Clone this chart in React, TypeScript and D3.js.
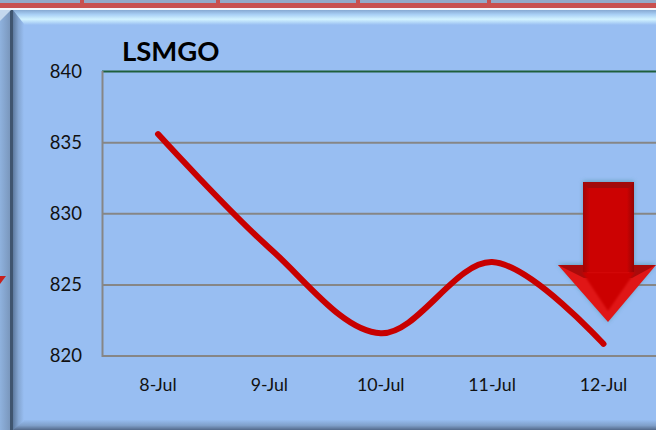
import React from "react";
import * as d3 from "d3";

const categories = ["8-Jul", "9-Jul", "10-Jul", "11-Jul", "12-Jul"];
const lsmgo = [835.6, 827.6, 821.6, 826.6, 820.85];
const yTicks = [820, 825, 830, 835, 840];
const headerDividers = [82, 218, 358, 489];

const FONT = "Lato, Carlito, sans-serif";

export default function App() {
  const W = 656, H = 430;
  const x = d3.scalePoint<string>().domain(categories).range([158, 603.5]);
  const y = d3.scaleLinear().domain([820, 840]).range([356, 71.5]);
  const line = d3
    .line<number>()
    .x((_, i) => x(categories[i]) as number)
    .y((d) => y(d))
    .curve(d3.curveCatmullRom.alpha(0.5));
  return (
    <svg
      width={W}
      height={H}
      viewBox={`0 0 ${W} ${H}`}
      style={{ position: "fixed", left: 0, top: 0, display: "block" }}
    >
      <defs>
        <linearGradient id="topBevel" x1="0" y1="0" x2="0" y2="1">
          <stop offset="0" stopColor="#86a9d2" />
          <stop offset="0.3" stopColor="#a9d0f5" />
          <stop offset="0.62" stopColor="#d2f3ff" />
          <stop offset="1" stopColor="#98bef2" />
        </linearGradient>
        <linearGradient id="bottomBevel" x1="0" y1="0" x2="0" y2="1">
          <stop offset="0" stopColor="#96bcef" />
          <stop offset="0.55" stopColor="#7f9fc9" />
          <stop offset="1" stopColor="#53698a" />
        </linearGradient>
        <linearGradient id="leftOuter" x1="0" y1="0" x2="1" y2="0">
          <stop offset="0" stopColor="#8fb2de" />
          <stop offset="1" stopColor="#7a97bd" />
        </linearGradient>
        <linearGradient id="leftInner" x1="0" y1="0" x2="1" y2="0">
          <stop offset="0" stopColor="#5d7a9f" />
          <stop offset="0.5" stopColor="#84a6d2" />
          <stop offset="1" stopColor="#98bef2" />
        </linearGradient>
        <linearGradient id="shaft" x1="0" y1="0" x2="1" y2="0">
          <stop offset="0" stopColor="#a00505" />
          <stop offset="0.14" stopColor="#cc0202" />
          <stop offset="0.86" stopColor="#cc0202" />
          <stop offset="1" stopColor="#950505" />
        </linearGradient>
        <filter id="glow" x="-20%" y="-20%" width="140%" height="140%">
          <feGaussianBlur stdDeviation="2" />
        </filter>
        <filter id="soft" x="-10%" y="-10%" width="120%" height="120%">
          <feGaussianBlur stdDeviation="1" />
        </filter>
      </defs>

      <rect x={0} y={0} width={W} height={H} fill="#98bef2" />

      {/* header strip */}
      <rect x={0} y={0} width={W} height={3} fill="#93a9c8" />
      <rect x={0} y={3} width={W} height={5} fill="#c8504f" />
      {headerDividers.map((d) => (
        <rect key={d} x={d - 2} y={0} width={4} height={8} fill="#c8504f" />
      ))}
      <rect x={0} y={8} width={W} height={2} fill="#f4f6fa" />

      {/* bevels */}
      <rect x={0} y={10} width={W} height={15} fill="url(#topBevel)" />
      <rect x={0} y={420} width={W} height={10} fill="url(#bottomBevel)" />
      <rect x={0} y={10} width={10} height={H - 10} fill="url(#leftOuter)" />
      <rect x={10} y={10} width={3} height={H - 10} fill="#3f556f" />
      <path d={`M13,10 L24,24 V421 L13,${H} Z`} fill="url(#leftInner)" />
      <path d="M0,10 H11 L0,21 Z" fill="#c4d8ee" />
      <path d="M0,276 L6,276 L0,284 Z" fill="#c8201c" />

      {/* grid */}
      {yTicks.map((t) => (
        <line
          key={t}
          x1={102}
          x2={W}
          y1={y(t)}
          y2={y(t)}
          stroke={t === 840 ? "#1f5f3c" : "#868686"}
          strokeWidth={2}
        />
      ))}
      <line x1={102.5} x2={102.5} y1={71} y2={357} stroke="#868686" strokeWidth={2} />

      {/* tick labels */}
      {yTicks.map((t) => (
        <text
          key={t}
          x={82}
          y={y(t) + 6}
          textAnchor="end"
          fontFamily={FONT}
          fontSize={18.5}
          fill="#111"
        >
          {t}
        </text>
      ))}
      {categories.map((c) => (
        <text
          key={c}
          x={x(c) as number}
          y={391}
          textAnchor="middle"
          fontFamily={FONT}
          fontSize={17.8}
          fill="#111"
        >
          {c}
        </text>
      ))}

      {/* title */}
      <text x={122} y={61} fontFamily={FONT} fontSize={27.5} fontWeight={700} fill="#000">
        LSMGO
      </text>

      {/* series */}
      <path
        d={line(lsmgo) as string}
        fill="none"
        stroke="#c80000"
        strokeWidth={6}
        strokeLinecap="round"
      />

      {/* arrow */}
      <path
        d="M583,181 H634 V264 H656 L608,322 L558,264 H583 Z"
        fill="#3c8a94"
        opacity={0.55}
        filter="url(#glow)"
      />
      <path d="M558,265 H583 V272 H634 V265 H656 L608,322 Z" fill="#e01616" />
      <path d="M558,265 H583 L590,278 H584 Z" fill="#a90b0b" />
      <path d="M634,265 H656 L632,278 H626 Z" fill="#a90b0b" />
      <path d="M582,272 H635 L608,311 Z" fill="#cc0303" filter="url(#soft)" />
      <rect x={583} y={182} width={51} height={90} fill="url(#shaft)" />
      <path d="M583,182 H634 L629,188 H588 Z" fill="#a30a0a" />
    </svg>
  );
}
